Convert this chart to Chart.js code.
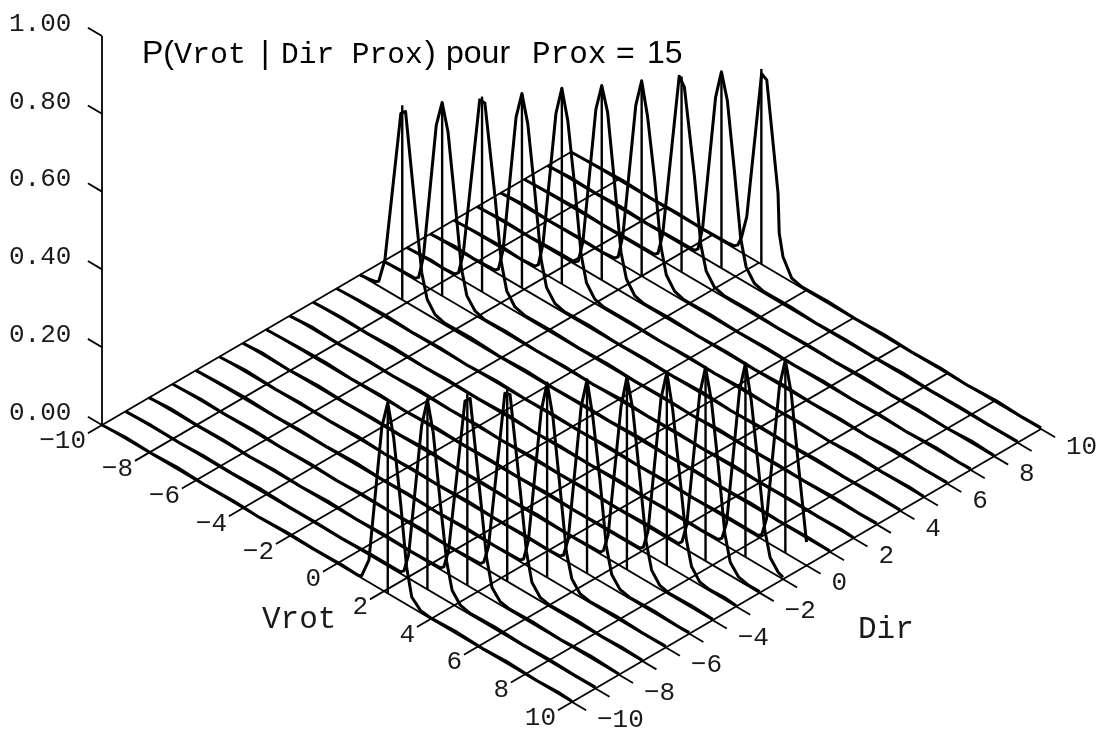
<!DOCTYPE html>
<html>
<head>
<meta charset="utf-8">
<title>P(Vrot | Dir Prox)</title>
<script src="https://cdn.jsdelivr.net/npm/chart.js@4"></script>
<style>
    html, body { margin: 0; padding: 0; background: #fff; }
    canvas { display: block; }
</style>
</head>
<body>
<canvas id="SurfaceChart" width="1100" height="729"></canvas>
<script>
// Tick values and labels
var vrotTicks = [-10, -8, -6, -4, -2, 0, 2, 4, 6, 8, 10];
var vrotLabels = ['−10', '−8', '−6', '−4', '−2', '0', '2', '4', '6', '8', '10'];
var dirTicks = [-10, -8, -6, -4, -2, 0, 2, 4, 6, 8, 10];
var dirLabels = ['−10', '−8', '−6', '−4', '−2', '0', '2', '4', '6', '8', '10'];
var probTicks = [0, 0.2, 0.4, 0.6, 0.8, 1];
var probLabels = ['0.00', '0.20', '0.40', '0.60', '0.80', '1.00'];

// One curve per Dir value
var dirValues = [-10, -9, -8, -7, -6, -5, -4, -3, -2, -1, 0, 1, 2, 3, 4, 5, 6, 7, 8, 9, 10];

// Where each curve peaks, drawn as an upright line
var peakVrot = [2.16, 2.85, 3.55, 4.25, 4.95, 5.65, 6.35, 7.05, 7.7, 8.4, 9.1, -8.2, -7.5, -6.8, -6.1, -5.4, -4.7, -4, -3.3, -2.6, -1.9];
var peakProb = [0.49, 0.488, 0.492, 0.5, 0.5, 0.498, 0.495, 0.497, 0.498, 0.498, 0.496, 0.5, 0.497, 0.502, 0.5, 0.503, 0.5, 0.502, 0.503, 0.505, 0.502];

// [Vrot, P]
var curveM10 = [[-10, 0], [-9, .004], [-7.9, .002], [-6.8, .005], [-5.6, .002], [-4.4, .004], [-3.3, .001], [-2.1, .004], [-1, .002], [0.2, .004], [0.9, .002], [1.05, .006], [1.36, .058], [1.91, .42], [2.16, .49], [2.41, .41], [2.71, .25], [2.96, .097], [3.18, .027], [3.55, .006], [4, .002], [5.1, .005], [6.2, .002], [7.3, .005], [8.5, .002], [9.4, .004], [10, .002]];
var curveM9 = [[-10, 0], [-8.9, .003], [-7.7, .001], [-6.7, .004], [-5.5, .002], [-4.3, .005], [-3.1, .002], [-2, .003], [-0.8, .001], [0.4, .004], [1.7, .004], [1.85, .012], [2.05, .06], [2.6, .41], [2.85, .488], [3.1, .41], [3.4, .24], [3.67, .1], [3.9, .035], [4.25, .009], [4.65, .003], [5.7, .005], [6.9, .002], [8, .004], [9.1, .002], [10, .003]];
var curveM8 = [[-10, 0], [-9.1, .005], [-8, .002], [-6.9, .004], [-5.7, .001], [-4.6, .004], [-3.5, .002], [-2.3, .005], [-1.2, .002], [0, .004], [1.2, .002], [2.4, .004], [2.55, .012], [2.75, .06], [3.45, .47], [3.67, .485], [4.1, .25], [4.37, .1], [4.6, .032], [4.95, .008], [5.35, .003], [6.4, .005], [7.6, .002], [8.8, .005], [10, .002]];
var curveM7 = [[-10, 0], [-8.8, .004], [-7.8, .002], [-6.6, .005], [-5.4, .002], [-4.2, .004], [-3, .001], [-1.9, .004], [-0.7, .002], [0.5, .005], [1.8, .002], [3.1, .005], [3.25, .014], [3.45, .06], [4.15, .48], [4.37, .485], [4.8, .255], [5.07, .105], [5.3, .035], [5.65, .009], [6.05, .003], [7.2, .005], [8.3, .002], [9.2, .004], [10, .002]];
var curveM6 = [[-10, 0], [-9, .003], [-7.9, .005], [-6.7, .002], [-5.6, .004], [-4.4, .002], [-3.2, .005], [-2.1, .002], [-1, .004], [0.3, .001], [1.5, .004], [2.7, .002], [3.8, .004], [3.95, .012], [4.15, .065], [4.7, .42], [4.95, .5], [5.2, .42], [5.5, .25], [5.77, .095], [6, .034], [6.35, .008], [6.75, .003], [7.9, .005], [9, .002], [10, .003]];
var curveM5 = [[-10, 0], [-8.9, .005], [-7.6, .002], [-6.5, .004], [-5.3, .002], [-4.1, .005], [-3, .001], [-1.8, .004], [-0.6, .002], [0.6, .005], [1.7, .002], [2.9, .004], [4, .002], [4.5, .004], [4.65, .012], [4.85, .06], [5.4, .42], [5.65, .498], [5.9, .41], [6.2, .26], [6.47, .1], [6.7, .035], [7.05, .009], [7.45, .003], [8.6, .005], [9.5, .002], [10, .003]];
var curveM4 = [[-10, 0], [-9.2, .004], [-8, .001], [-6.8, .005], [-5.7, .002], [-4.5, .004], [-3.3, .002], [-2.2, .005], [-1, .002], [0.2, .004], [1.4, .002], [2.6, .005], [3.8, .002], [5.2, .004], [5.35, .013], [5.55, .06], [6.1, .41], [6.35, .495], [6.6, .42], [6.9, .255], [7.17, .1], [7.4, .036], [7.75, .009], [8.15, .003], [9.1, .005], [10, .002]];
var curveM3 = [[-10, 0], [-8.7, .003], [-7.5, .005], [-6.4, .002], [-5.2, .004], [-4, .001], [-2.8, .005], [-1.7, .002], [-0.5, .004], [0.7, .002], [1.9, .005], [3.1, .002], [4.3, .004], [5.9, .004], [6.05, .012], [6.25, .06], [6.8, .42], [7.05, .497], [7.3, .41], [7.6, .25], [7.87, .1], [8.1, .035], [8.45, .008], [8.85, .003], [9.5, .005], [10, .002]];
var curveM2 = [[-10, 0], [-9, .005], [-7.9, .002], [-6.8, .004], [-5.6, .002], [-4.4, .005], [-3.2, .002], [-2, .004], [-0.9, .001], [0.3, .005], [1.5, .002], [2.7, .004], [3.9, .002], [5.2, .005], [6.55, .004], [6.7, .014], [6.9, .065], [7.45, .42], [7.7, .498], [7.95, .42], [8.25, .26], [8.52, .1], [8.75, .034], [9.1, .009], [9.5, .003], [10, .003]];
var curveM1 = [[-10, 0], [-8.8, .004], [-7.7, .002], [-6.5, .005], [-5.3, .002], [-4.2, .004], [-3, .002], [-1.8, .005], [-0.6, .001], [0.6, .004], [1.8, .002], [3, .005], [4.2, .002], [5.4, .004], [6.5, .002], [7.25, .004], [7.4, .013], [7.6, .06], [8.15, .42], [8.4, .498], [8.65, .41], [8.95, .25], [9.22, .1], [9.45, .036], [9.8, .01], [10, .005]];
var curveD0 = [[-10, 0], [-9.1, .003], [-7.9, .005], [-6.7, .002], [-5.6, .004], [-4.4, .001], [-3.2, .005], [-2, .002], [-0.8, .004], [0.4, .002], [1.6, .005], [2.8, .002], [4, .004], [5.2, .002], [6.4, .005], [7.95, .004], [8.1, .012], [8.3, .06], [8.85, .42], [9.1, .496], [9.35, .42], [9.65, .25], [10, .06]];
var curveP1 = [[-10, 0], [-9.6, .003], [-9.35, .006], [-9.2, .012], [-8.94, .076], [-8.26, .477], [-8.06, .489], [-7.66, .26], [-7.37, .099], [-7.14, .039], [-6.81, .012], [-6.4, .004], [-5.3, .006], [-4.1, .002], [-3, .005], [-1.8, .002], [-0.6, .004], [0.6, .002], [1.8, .005], [3, .002], [4.2, .004], [5.4, .002], [6.6, .005], [7.8, .002], [9, .004], [10, .002]];
var curveP2 = [[-10, 0], [-9.2, .003], [-8.65, .004], [-8.5, .012], [-8.3, .07], [-7.75, .43], [-7.5, .497], [-7.25, .43], [-6.95, .26], [-6.68, .1], [-6.45, .038], [-6.1, .011], [-5.7, .003], [-4.7, .005], [-3.5, .002], [-2.3, .004], [-1.1, .001], [0.1, .005], [1.3, .002], [2.5, .004], [3.7, .002], [4.9, .005], [6.1, .002], [7.3, .004], [8.5, .002], [9.5, .004], [10, .002]];
var curveP3 = [[-10, 0], [-9, .004], [-8.4, .002], [-7.95, .005], [-7.8, .014], [-7.6, .07], [-6.9, .49], [-6.68, .49], [-6.25, .265], [-5.98, .105], [-5.75, .04], [-5.4, .011], [-5, .004], [-3.9, .005], [-2.7, .002], [-1.5, .005], [-0.3, .002], [0.9, .004], [2.1, .001], [3.3, .005], [4.5, .002], [5.7, .004], [6.9, .002], [8.1, .005], [9.2, .002], [10, .003]];
var curveP4 = [[-10, 0], [-8.9, .005], [-8.1, .002], [-7.25, .005], [-7.1, .013], [-6.9, .07], [-6.35, .43], [-6.1, .5], [-5.85, .43], [-5.55, .265], [-5.28, .1], [-5.05, .038], [-4.7, .01], [-4.3, .003], [-3.2, .005], [-2, .002], [-0.8, .004], [0.4, .002], [1.6, .005], [2.8, .001], [4, .004], [5.2, .002], [6.4, .005], [7.6, .002], [8.8, .004], [10, .002]];
var curveP5 = [[-10, 0], [-9.1, .003], [-8, .005], [-7.1, .002], [-6.55, .005], [-6.4, .014], [-6.2, .075], [-5.65, .43], [-5.4, .503], [-5.15, .43], [-4.85, .27], [-4.58, .105], [-4.35, .04], [-4, .011], [-3.6, .004], [-2.5, .005], [-1.3, .002], [-0.1, .004], [1.1, .002], [2.3, .005], [3.5, .002], [4.7, .004], [5.9, .001], [7.1, .005], [8.3, .002], [9.4, .004], [10, .002]];
var curveP6 = [[-10, 0], [-8.8, .004], [-7.7, .002], [-6.6, .005], [-5.85, .005], [-5.7, .013], [-5.5, .07], [-4.95, .43], [-4.7, .5], [-4.45, .44], [-4.15, .265], [-3.88, .1], [-3.65, .04], [-3.3, .01], [-2.9, .003], [-1.8, .005], [-0.6, .002], [0.6, .004], [1.8, .002], [3, .005], [4.2, .002], [5.4, .004], [6.6, .001], [7.8, .005], [9, .002], [10, .003]];
var curveP7 = [[-10, 0], [-9, .005], [-7.9, .002], [-6.8, .004], [-5.7, .002], [-5.15, .005], [-5, .014], [-4.8, .075], [-4.25, .43], [-4, .502], [-3.75, .42], [-3.45, .27], [-3.18, .105], [-2.95, .04], [-2.6, .011], [-2.2, .003], [-1.1, .005], [0.1, .002], [1.3, .004], [2.5, .002], [3.7, .005], [4.9, .002], [6.1, .004], [7.3, .001], [8.5, .005], [9.5, .002], [10, .003]];
var curveP8 = [[-10, 0], [-8.9, .003], [-7.8, .005], [-6.6, .002], [-5.5, .004], [-4.45, .005], [-4.3, .013], [-4.1, .07], [-3.4, .5], [-3.18, .48], [-2.75, .265], [-2.48, .1], [-2.25, .04], [-1.9, .011], [-1.5, .004], [-0.4, .005], [0.8, .002], [2, .004], [3.2, .002], [4.4, .005], [5.6, .002], [6.8, .004], [8, .001], [9.1, .005], [10, .002]];
var curveP9 = [[-10, 0], [-9.1, .004], [-8, .002], [-6.9, .005], [-5.7, .002], [-4.6, .004], [-3.75, .005], [-3.6, .014], [-3.4, .075], [-2.85, .43], [-2.6, .505], [-2.35, .44], [-2.05, .27], [-1.78, .105], [-1.55, .04], [-1.2, .011], [-0.8, .004], [0.3, .005], [1.5, .002], [2.7, .004], [3.9, .002], [5.1, .005], [6.3, .002], [7.5, .004], [8.7, .002], [10, .003]];
var curveP10 = [[-10, 0], [-8.8, .003], [-7.7, .005], [-6.6, .002], [-5.4, .004], [-4.3, .002], [-3.3, .004], [-3.05, .006], [-2.9, .014], [-2.74, .04], [-2.52, .1], [-1.89, .49], [-1.67, .482], [-1.19, .208], [-1.14, .107], [-0.98, .052], [-0.61, .01], [-0.18, .003], [0.9, .005], [2.1, .002], [3.3, .005], [4.5, .002], [5.7, .004], [6.9, .001], [8.1, .005], [9.2, .002], [10, .003]];

var curves = [curveM10, curveM9, curveM8, curveM7, curveM6, curveM5, curveM4, curveM3, curveM2, curveM1, curveD0,
    curveP1, curveP2, curveP3, curveP4, curveP5, curveP6, curveP7, curveP8, curveP9, curveP10];

// Oblique view of the box, in canvas units
function project(vrot, dir, prob) {
    return {
        x: 102 + (vrot + 10) * 23.5 + (dir + 10) * 23.45,
        y: 425 + (vrot + 10) * 13.85 - (dir + 10) * 13.65 - prob * 389
    };
}

function lineDataset(points, width) {
    return {
        data: points,
        showLine: true,
        borderColor: '#000',
        borderWidth: width,
        borderJoinStyle: 'round',
        pointRadius: 0,
        tension: 0,
        fill: false
    };
}

var datasets = [];
var tickLength = 0.6;

// Floor grid, the lines run a little past the box as ticks
dirValues.forEach(function (d) {
    datasets.push(lineDataset([project(-10, d, 0), project(10 + tickLength, d, 0)], 1.8));
});
vrotTicks.forEach(function (v) {
    datasets.push(lineDataset([project(v, -10 - tickLength, 0), project(v, 10, 0)], 1.8));
});

// Probability axis
datasets.push(lineDataset([project(-10, -10, 0), project(-10, -10, 1)], 1.8));
probTicks.forEach(function (p) {
    datasets.push(lineDataset([project(-10, -10, p), project(-10 - tickLength, -10, p)], 1.8));
});

// Curves and their peak lines
dirValues.forEach(function (d, i) {
    datasets.push(lineDataset(curves[i].map(function (c) {
        return project(c[0], d, c[1]);
    }), 3));
    datasets.push(lineDataset([project(peakVrot[i], d, 0), project(peakVrot[i], d, peakProb[i])], 2.4));
});

var surfaceLabels = {
    id: 'surfaceLabels',
    afterDraw: function (chart) {
        var ctx = chart.ctx;
        var sx = chart.scales.x;
        var sy = chart.scales.y;
        var mono = 'Liberation Mono';
        var sans = 'Liberation Sans';

        function put(text, x, y, font, align, baseline) {
            ctx.font = font;
            ctx.textAlign = align || 'left';
            ctx.textBaseline = baseline || 'alphabetic';
            ctx.fillText(text, sx.getPixelForValue(x), sy.getPixelForValue(y));
        }

        ctx.save();
        ctx.fillStyle = '#1a1a1a';

        vrotTicks.forEach(function (v, i) {
            var p = project(v, -10, 0);
            put(vrotLabels[i], p.x - 16, p.y + 16, '26px "' + mono + '"', 'right', 'middle');
        });
        dirTicks.forEach(function (d, i) {
            var p = project(10, d, 0);
            put(dirLabels[i], p.x + 25, p.y + 18, '26px "' + mono + '"', 'left', 'middle');
        });
        probTicks.forEach(function (t, i) {
            var p = project(-10, -10, t);
            put(probLabels[i], 9, p.y - 12, '26px "' + mono + '"', 'left', 'middle');
        });

        put('Vrot', 262, 628, '31px "' + mono + '"');
        put('Dir', 858, 638, '31px "' + mono + '"');

        // Title, mixed fonts
        ctx.fillStyle = '#000';
        put('P(', 142, 63, '32px "' + sans + '"');
        put('Vrot', 174, 63, '30px "' + mono + '"');
        put('|', 261, 63, '32px "' + sans + '"');
        put('Dir Prox', 281, 63, '29.5px "' + mono + '"');
        put(')', 425, 63, '32px "' + sans + '"');
        put('pour', 446, 63, '32px "' + sans + '"');
        put('Prox', 532, 63, '31px "' + mono + '"');
        put('=', 616, 63, '32px "' + sans + '"');
        put('15', 647, 63, '32px "' + sans + '"');

        ctx.restore();
    }
};

new Chart(document.getElementById('SurfaceChart'), {
    type: 'scatter',
    data: { datasets: datasets },
    options: {
        responsive: false,
        animation: false,
        layout: { padding: 0 },
        plugins: {
            legend: { display: false },
            tooltip: { enabled: false },
            title: { display: false }
        },
        scales: {
            x: { type: 'linear', display: false, min: 0, max: 1100 },
            y: { type: 'linear', display: false, min: 0, max: 729, reverse: true }
        }
    },
    plugins: [surfaceLabels]
});
</script>
</body>
</html>
